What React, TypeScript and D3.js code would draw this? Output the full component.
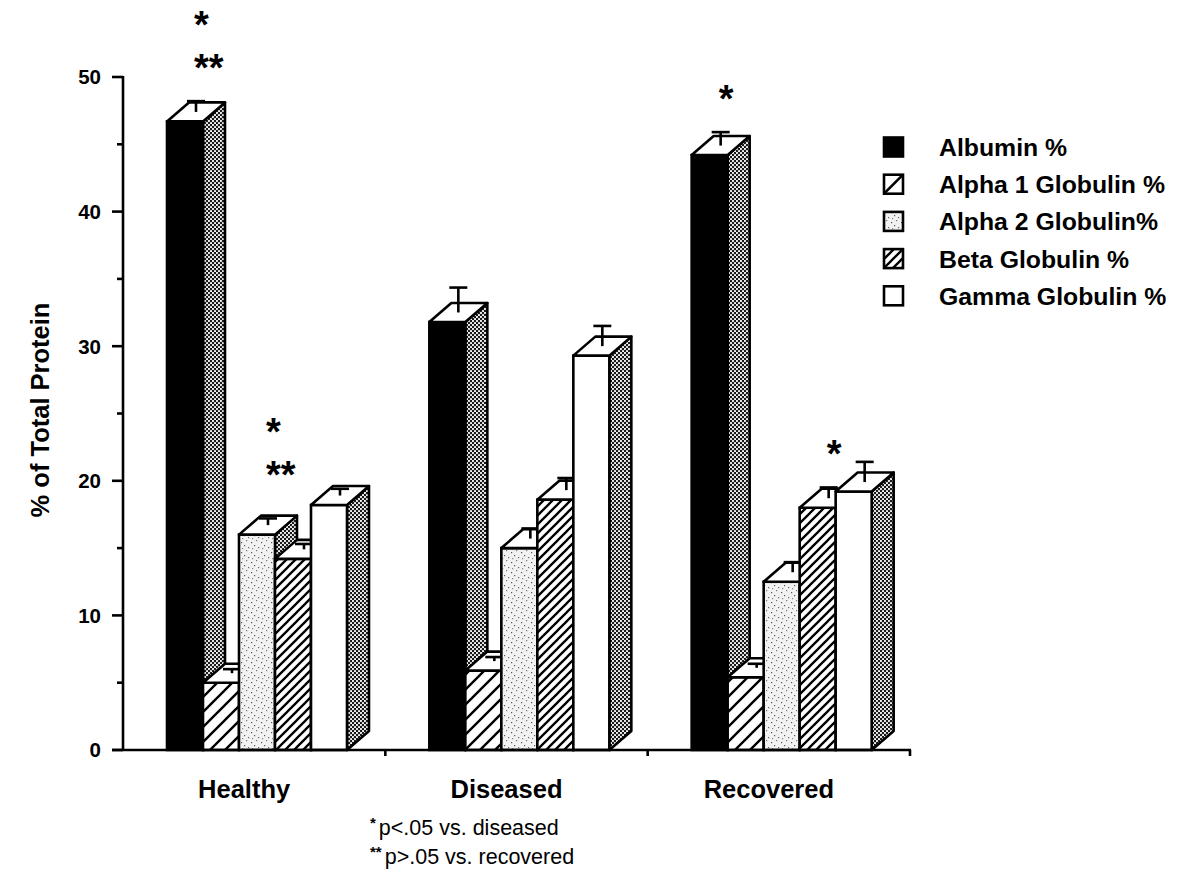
import React from "react";
import * as d3 from "d3";

// Serum protein fractions (% of total protein) by health status
const categories = ["Healthy", "Diseased", "Recovered"];
const seriesNames = [
  "Albumin %",
  "Alpha 1 Globulin %",
  "Alpha 2 Globulin%",
  "Beta Globulin %",
  "Gamma Globulin %",
];
const albumin = [46.7, 31.8, 44.2];
const alpha1 = [5.0, 5.9, 5.4];
const alpha2 = [16.0, 15.0, 12.5];
const beta = [14.2, 18.6, 18.0];
const gamma = [18.2, 29.3, 19.2];
const albuminSE = [0.8, 1.85, 1.0];
const alpha1SE = [0.3, 0.3, 0.3];
const alpha2SE = [0.5, 0.75, 0.75];
const betaSE = [0.4, 0.9, 0.8];
const gammaSE = [0.5, 1.5, 1.5];
const yTicks = [0, 10, 20, 30, 40, 50];
const yMinorTicks = [5, 15, 25, 35, 45];

// significance markers: category, series index, stacked rows (bottom first)
const sigMarks = [
  { cat: "Healthy", series: 0, rows: ["**", "*"] },
  { cat: "Healthy", series: 2, rows: ["**", "*"] },
  { cat: "Recovered", series: 0, rows: ["*"] },
  { cat: "Recovered", series: 3, rows: ["*"] },
];
const footnotes = [
  { mark: "*", text: "p<.05 vs. diseased" },
  { mark: "**", text: "p>.05 vs. recovered" },
];

const values = [albumin, alpha1, alpha2, beta, gamma];
const errors = [albuminSE, alpha1SE, alpha2SE, betaSE, gammaSE];
const fills = ["#000", "url(#hatchWide)", "url(#stipple)", "url(#hatchDense)", "#fff"];

const W = 1190;
const H = 874;
const FONT = "'Liberation Sans', Arial, Helvetica, sans-serif";
const SW = 2.6;

export default function App() {
  const x = d3.scaleBand<string>().domain(categories).range([123, 910]).padding(0);
  const y = d3.scaleLinear().domain([0, 50]).range([750, 77]);
  const barW = 36;
  const groupOffset = 44;
  const dx = 22;
  const dy = 19;
  const base = y(0);

  const barX = (cat: string, i: number) => (x(cat) as number) + groupOffset + i * barW;
  const topCenterX = (cat: string, i: number) => barX(cat, i) + barW / 2 + dx / 2;

  const bars: React.ReactNode[] = [];
  categories.forEach((cat, ci) => {
    values.forEach((series, si) => {
      const v = series[ci];
      const se = errors[si][ci];
      const x0 = barX(cat, si);
      const x1 = x0 + barW;
      const yt = y(v);
      const side = [
        [x1, base],
        [x1 + dx, base - dy],
        [x1 + dx, yt - dy],
        [x1, yt],
      ];
      const top = [
        [x0, yt],
        [x0 + dx, yt - dy],
        [x1 + dx, yt - dy],
        [x1, yt],
      ];
      const ex = topCenterX(cat, si);
      const ey0 = yt - dy / 2;
      const ey1 = y(v + se) - dy / 2;
      bars.push(
        <g key={`${cat}-${si}`}>
          <polygon
            points={side.map((p) => p.join(",")).join(" ")}
            fill="url(#sideDots)"
            stroke="#000"
            strokeWidth={SW}
            strokeLinejoin="round"
          />
          <rect x={x0} y={yt} width={barW} height={base - yt} fill={fills[si]} stroke="#000" strokeWidth={SW} />
          <polygon
            points={top.map((p) => p.join(",")).join(" ")}
            fill="#fff"
            stroke="#000"
            strokeWidth={SW}
            strokeLinejoin="round"
          />
          <line x1={ex} x2={ex} y1={ey0} y2={ey1} stroke="#000" strokeWidth={SW} />
          <line x1={ex - 9} x2={ex + 9} y1={ey1} y2={ey1} stroke="#000" strokeWidth={SW} />
        </g>
      );
    });
  });

  const legendX = 884;
  const legendY0 = 147;
  const legendStep = 37.2;
  const sw = 19;
  const sigSize = 38;

  return (
    <svg width={W} height={H} style={{ display: "block", position: "absolute", left: 0, top: 0 }} fontFamily={FONT}>
      <defs>
        <pattern id="sideDots" patternUnits="userSpaceOnUse" width={4} height={4}>
          <rect width={4} height={4} fill="#1a1a1a" />
          <circle cx={1} cy={1} r={1.05} fill="#fff" />
          <circle cx={3} cy={3} r={1.05} fill="#fff" />
        </pattern>
        <pattern id="hatchWide" patternUnits="userSpaceOnUse" width={15} height={15}>
          <rect width={15} height={15} fill="#fff" />
          <path d="M-4,4 L4,-4 M0,15 L15,0 M11,19 L19,11" stroke="#000" strokeWidth={2.4} />
        </pattern>
        <pattern id="hatchDense" patternUnits="userSpaceOnUse" width={9} height={9}>
          <rect width={9} height={9} fill="#fff" />
          <path d="M-3,3 L3,-3 M0,9 L9,0 M6,12 L12,6" stroke="#000" strokeWidth={2.3} />
        </pattern>
        <pattern id="stipple" patternUnits="userSpaceOnUse" width={10} height={10}>
          <rect width={10} height={10} fill="#f2f2f2" />
          <rect x={1} y={2} width={1.2} height={1.2} fill="#555" />
          <rect x={6} y={0} width={1.2} height={1.2} fill="#777" />
          <rect x={4} y={5} width={1.2} height={1.2} fill="#555" />
          <rect x={8} y={7} width={1.2} height={1.2} fill="#666" />
          <rect x={2} y={8} width={1.2} height={1.2} fill="#888" />
        </pattern>
      </defs>

      {bars}

      {/* y axis */}
      <line x1={123} x2={123} y1={y(50) - 1} y2={base} stroke="#000" strokeWidth={SW} />
      {yTicks.map((t) => (
        <g key={`yt${t}`}>
          <line x1={112} x2={123} y1={y(t)} y2={y(t)} stroke="#000" strokeWidth={SW} />
          <text x={101} y={y(t)} dy="0.36em" textAnchor="end" fontSize={20.5} fontWeight="bold">
            {t}
          </text>
        </g>
      ))}
      {yMinorTicks.map((t) => (
        <line key={`ym${t}`} x1={117} x2={123} y1={y(t)} y2={y(t)} stroke="#000" strokeWidth={SW} />
      ))}
      <text
        transform={`translate(40,410) rotate(-90)`}
        textAnchor="middle"
        dy="0.36em"
        fontSize={25.5}
        fontWeight="bold"
      >
        % of Total Protein
      </text>

      {/* x axis */}
      <line x1={112} x2={911} y1={base} y2={base} stroke="#000" strokeWidth={SW} />
      {categories.map((c) => (
        <line
          key={`xt${c}`}
          x1={(x(c) as number) + x.bandwidth()}
          x2={(x(c) as number) + x.bandwidth()}
          y1={base}
          y2={base + 6}
          stroke="#000"
          strokeWidth={SW}
        />
      ))}
      {categories.map((c) => (
        <text
          key={`xl${c}`}
          x={(x(c) as number) + x.bandwidth() / 2 - 10}
          y={798}
          textAnchor="middle"
          fontSize={25.5}
          fontWeight="bold"
        >
          {c}
        </text>
      ))}

      {/* significance markers */}
      {sigMarks.map((m) => {
        const ci = categories.indexOf(m.cat);
        const v = values[m.series][ci];
        const se = errors[m.series][ci];
        const capY = y(v + se) - dy / 2;
        const sx = topCenterX(m.cat, m.series) - 2;
        // markers over short error bars sit a little higher
        const lift = se < 0.6 && m.series !== 0 ? 10 : 0;
        return m.rows.map((r, ri) => (
          <text
            key={`sig${m.cat}${m.series}${ri}`}
            x={sx}
            y={capY - 42 - lift - ri * 43 + sigSize * 0.58}
            fontSize={sigSize}
            fontWeight="bold"
          >
            {r}
          </text>
        ));
      })}

      {/* legend */}
      {seriesNames.map((name, i) => {
        const ly = legendY0 + i * legendStep;
        return (
          <g key={`lg${i}`}>
            <rect
              x={legendX}
              y={ly - sw / 2}
              width={sw}
              height={sw}
              fill={i === 1 ? "#fff" : fills[i]}
              stroke="#000"
              strokeWidth={SW}
            />
            {i === 1 && (
              <line
                x1={legendX}
                y1={ly + sw / 2}
                x2={legendX + sw}
                y2={ly - sw / 2}
                stroke="#000"
                strokeWidth={SW}
              />
            )}
            <text x={939} y={ly} dy="0.36em" fontSize={24.8} fontWeight="bold">
              {name}
            </text>
          </g>
        );
      })}

      {/* footnotes */}
      {footnotes.map((f, i) => (
        <text key={`fn${i}`} x={370} y={835 + i * 29} fontSize={21.5}>
          <tspan fontSize={15} fontWeight="bold" dy={-7}>
            {f.mark}
          </tspan>
          <tspan dy={7} dx={3}>
            {f.text}
          </tspan>
        </text>
      ))}
    </svg>
  );
}
